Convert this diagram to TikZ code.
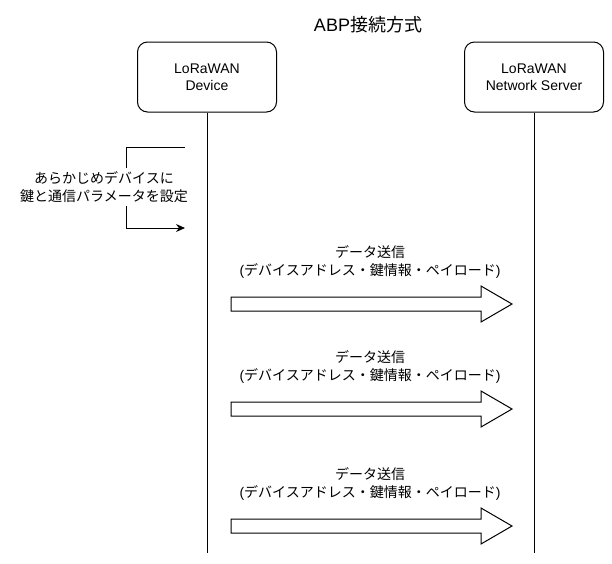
\documentclass[tikz,border=0pt]{standalone}
\usepackage{fontspec}
\setmainfont{Liberation Sans}
\newfontfamily\jp{Noto Sans CJK JP}
\usetikzlibrary{positioning,arrows.meta}

\begin{document}
\begin{tikzpicture}[x=1pt,y=-1pt,line width=1pt,
    actor/.style={draw, rounded corners=10pt, minimum width=139pt, minimum height=70pt, align=center, font=\fontsize{14}{17.5}\selectfont},
    lbl/.style={align=center, font=\fontsize{14}{17.5}\selectfont},
    bigarrow/.style={draw, fill=white}]
    \useasboundingbox (0,0) rectangle (612,563);

    % Title
    \node[font=\fontsize{18}{22}\selectfont] (title) at (368,25) {ABP{\jp 接続方式}};

    % Participants
    \node[actor] (dev) at (207,77) {LoRaWAN\\Device};
    \node[actor] (srv) at (534,77) {LoRaWAN\\Network Server};

    % Lifelines
    \coordinate (devend) at (207,553);
    \coordinate (srvend) at (534,553);
    \draw (dev.south) -- (devend);
    \draw (srv.south) -- (srvend);

    % Pre-shared keys
    \coordinate (pre1) at (185,147);
    \coordinate (pre2) at (185,228);
    \draw[-{Stealth[length=9pt,width=8pt]}] (pre1) -- ++(-59,0) |- (pre2);
    \node[lbl, fill=white, inner sep=4pt] (pretxt) at (104,187) {{\jp あらかじめデバイスに}\\{\jp 鍵と通信パラメータを設定}};

    % Uplinks
    \foreach \y/\n in {304/1, 409/2, 526/3} {
        \node[lbl] (msg\n) at (370,\y-42) {{\jp データ送信}\\({\jp デバイスアドレス・鍵情報・ペイロード})};
        \draw[bigarrow] (231,\y-7) -- (481,\y-7) -- (481,\y-18) -- (512,\y)
            -- (481,\y+18) -- (481,\y+7) -- (231,\y+7) -- cycle;
    }
\end{tikzpicture}
\end{document}
